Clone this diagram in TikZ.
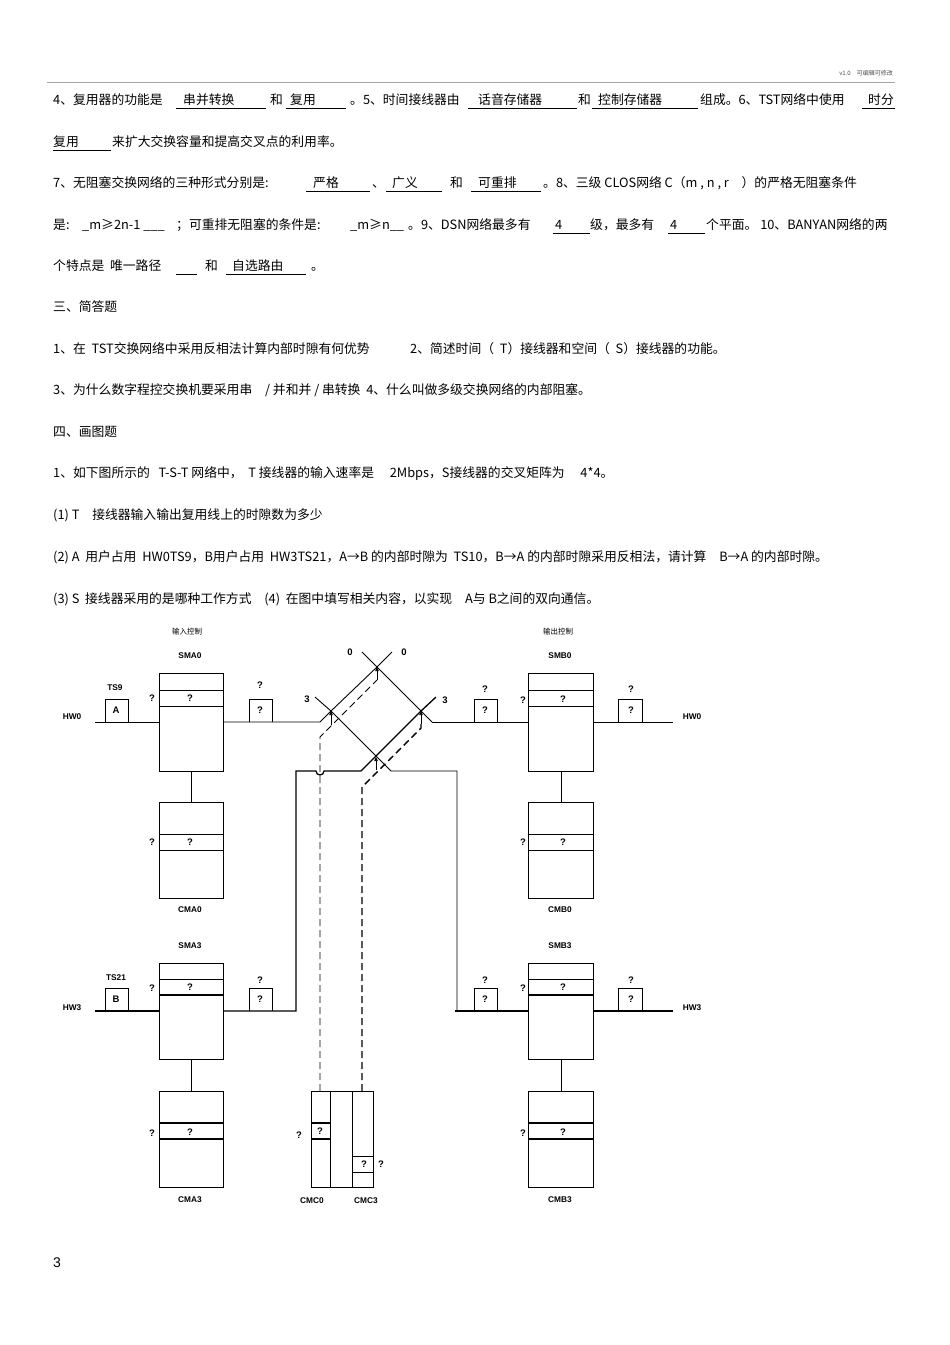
\documentclass[tikz,border=0pt]{standalone}
\usepackage{fontspec}
\setmainfont{Noto Sans CJK SC}
\setsansfont{Liberation Sans}
\usetikzlibrary{arrows.meta}
\newcommand{\TX}[4]{\node[txt] (#1) at (#2,#3) {#4};}
\newcommand{\UL}[3]{\draw[ul] (#1,#3+4) -- (#2,#3+4);}
\begin{document}
\begin{tikzpicture}[x=1pt,y=-1pt,
  txt/.style={anchor=base west,inner sep=0pt,font=\fontsize{12.8}{14}\selectfont},
  ul/.style={line width=0.6pt},
  lab/.style={inner sep=0pt,font=\sffamily\bfseries\fontsize{8.3}{9}\selectfont},
  q/.style={inner sep=0pt,font=\sffamily\bfseries\fontsize{9.5}{10}\selectfont},
  mem/.style={draw,line width=0.9pt},
  wire/.style={line width=0.9pt},
  tip/.style={-{Triangle[length=4pt,width=3.5pt]},line width=0.7pt}]
\useasboundingbox (0,0) rectangle (950,1345);
% header
\node[anchor=base east,inner sep=0pt,font=\fontsize{6}{7}\selectfont,text=black!70] (hdr) at (893,75) {v1.0\quad 可编辑可修改};
\draw[black!35,line width=0.5pt] (47,82) -- (895,82);
% line 1
\TX{a1}{53}{104}{4、复用器的功能是}
\TX{a2}{183}{104}{串并转换}\UL{176}{266}{104}
\TX{a3}{270}{104}{和}
\TX{a4}{290}{104}{复用}\UL{286}{346}{104}
\TX{a5}{350}{104}{。5、时间接线器由}
\TX{a6}{478}{104}{话音存储器}\UL{468}{577}{104}
\TX{a7}{578}{104}{和}
\TX{a8}{598}{104}{控制存储器}\UL{592}{698}{104}
\TX{a9}{700}{104}{组成。6、TST网络中使用}
\TX{a10}{868}{104}{时分}\UL{862}{895}{104}
% line 2
\TX{b1}{53}{146}{复用}\UL{53}{111}{146}
\TX{b2}{112}{146}{来扩大交换容量和提高交叉点的利用率。}
% line 3
\TX{c1}{53}{187}{7、无阻塞交换网络的三种形式分别是:}
\TX{c2}{313}{187}{严格}\UL{306}{370}{187}
\TX{c3}{372}{187}{、}
\TX{c4}{392}{187}{广义}\UL{386}{442}{187}
\TX{c5}{450}{187}{和}
\TX{c6}{478}{187}{可重排}\UL{471}{541}{187}
\TX{c7}{543}{187}{。8、三级\ CLOS网络\ C（m , n , r\quad ）的严格无阻塞条件}
% line 4
\TX{d1}{53}{229}{是:}
\TX{d2}{82}{229}{\_m≥2n-1\ \_\_\_}
\TX{d3}{176}{229}{；可重排无阻塞的条件是:}
\TX{d4}{350}{229}{\_m≥n\_\_}
\TX{d5}{408}{229}{。9、DSN网络最多有}
\TX{d6}{555}{229}{4}\UL{553}{590}{229}
\TX{d7}{590}{229}{级，最多有}
\TX{d8}{670}{229}{4}\UL{668}{705}{229}
\TX{d9}{706}{229}{个平面。 10、BANYAN网络的两}
% line 5
\TX{e1}{53}{270}{个特点是\ \ 唯一路径}\UL{176}{197}{270}
\TX{e2}{205}{270}{和}
\TX{e3}{232}{270}{自选路由}\UL{226}{306}{270}
\TX{e4}{311}{270}{。}
% rest
\TX{f1}{53}{311}{三、简答题}
\TX{g1}{53}{353}{1、在\ \ TST交换网络中采用反相法计算内部时隙有何优势}
\TX{g2}{410}{353}{2、简述时间（\ \ T）接线器和空间（\ \ S）接线器的功能。}
\TX{h1}{53}{394}{3、为什么数字程控交换机要采用串\quad / 并和并 / 串转换\ \ 4、什么叫做多级交换网络的内部阻塞。}
\TX{i1}{53}{436}{四、画图题}
\TX{j1}{53}{477}{1、如下图所示的\ \ \ T-S-T 网络中，\ \ T 接线器的输入速率是\quad\ 2Mbps，S接线器的交叉矩阵为\quad\ 4*4。}
\TX{k1}{53}{519}{(1) T\quad 接线器输入输出复用线上的时隙数为多少}
\TX{l1}{53}{561}{(2) A\ \ 用户占用\ \ HW0TS9，B用户占用\ \ HW3TS21，A→B 的内部时隙为\ \ TS10，B→A 的内部时隙采用反相法，请计算\quad B→A 的内部时隙。}
\TX{m1}{53}{603}{(3) S\ \ 接线器采用的是哪种工作方式\quad (4)\ \ 在图中填写相关内容，以实现\quad A与 B之间的双向通信。}
\node[anchor=base west,inner sep=0pt,font=\sffamily\fontsize{14}{16}\selectfont] (pg) at (53,1267) {3};
% ---------- diagram labels
\node[inner sep=0pt,font=\fontsize{7.5}{8}\selectfont] (inc) at (187,632) {输入控制};
\node[inner sep=0pt,font=\fontsize{7.5}{8}\selectfont] (outc) at (558,632) {输出控制};
% ===== SMA0 / CMA0
\draw[mem] (159,673) rectangle (223,771);
\draw[wire] (159,690)--(223,690) (159,706)--(223,706);
\node[lab] (lsma0) at (190,656) {SMA0};
\node[q] (qa0) at (190,698) {?}; \node[q] (qa0l) at (152,698) {?};
\draw[mem] (159,802) rectangle (223,898);
\draw[wire] (159,834)--(223,834) (159,850)--(223,850);
\node[q] (qc0) at (190,842) {?}; \node[q] (qc0l) at (152,842) {?};
\node[lab] (lcma0) at (190,910) {CMA0};
\draw[wire] (191,771)--(191,802);
\draw[wire] (95,722)--(159,722);
\draw[mem] (105,722)--(105,699)--(128,699)--(128,722);
\node[q] (nA) at (116,710) {A};
\node[lab] (ts9) at (115,688) {TS9};
\node[lab] (hw0l) at (72,717) {HW0};
\draw[mem] (249,722)--(249,699)--(272,699)--(272,722);
\node[q] (qb0) at (260,710) {?}; \node[q] (qb0t) at (260,685) {?};
% ===== SMA3 / CMA3
\draw[mem] (159,963) rectangle (223,1059);
\draw[wire] (159,979)--(223,979); \draw[line width=1.4pt] (159,995)--(223,995);
\node[lab] (lsma3) at (190,946) {SMA3};
\node[q] (qa3) at (190,987) {?}; \node[q] (qa3l) at (152,988) {?};
\draw[mem] (159,1091) rectangle (223,1187);
\draw[line width=1.4pt] (159,1123)--(223,1123) (159,1139)--(223,1139);
\node[q] (qc3) at (190,1132) {?}; \node[q] (qc3l) at (152,1133) {?};
\node[lab] (lcma3) at (190,1200) {CMA3};
\draw[wire] (191,1059)--(191,1091);
\draw[line width=1.3pt] (95,1011)--(159,1011);
\draw[mem] (105,1011)--(105,988)--(128,988)--(128,1011);
\node[q] (nB) at (116,999) {B};
\node[lab] (ts21) at (116,978) {TS21};
\node[lab] (hw3l) at (72,1008) {HW3};
\draw[mem] (249,1011)--(249,988)--(272,988)--(272,1011);
\node[q] (qb3) at (260,999) {?}; \node[q] (qb3t) at (260,980) {?};
% ===== SMB0 / CMB0
\draw[mem] (528,673) rectangle (593,771);
\draw[wire] (528,690)--(593,690) (528,706)--(593,706);
\node[lab] (lsmb0) at (560,656) {SMB0};
\node[q] (qd0) at (563,699) {?}; \node[q] (qd0l) at (523,700) {?};
\draw[mem] (528,802) rectangle (593,898);
\draw[wire] (528,834)--(593,834) (528,850)--(593,850);
\node[q] (qe0) at (563,842) {?}; \node[q] (qe0l) at (523,842) {?};
\node[lab] (lcmb0) at (560,910) {CMB0};
\draw[wire] (561,771)--(561,802);
\draw[wire] (432,722)--(528,722) (593,722)--(673,722);
\draw[mem] (474,722)--(474,699)--(497,699)--(497,722);
\node[q] (qf0) at (485,710) {?}; \node[q] (qf0t) at (485,689) {?};
\draw[mem] (618,722)--(618,699)--(642,699)--(642,722);
\node[q] (qg0) at (631,710) {?}; \node[q] (qg0t) at (631,689) {?};
\node[lab] (hw0r) at (692,717) {HW0};
% ===== SMB3 / CMB3
\draw[mem] (528,963) rectangle (593,1059);
\draw[wire] (528,979)--(593,979); \draw[line width=1.4pt] (528,995)--(593,995);
\node[lab] (lsmb3) at (560,946) {SMB3};
\node[q] (qd3) at (563,987) {?}; \node[q] (qd3l) at (523,988) {?};
\draw[mem] (528,1091) rectangle (593,1187);
\draw[line width=1.4pt] (528,1123)--(593,1123) (528,1139)--(593,1139);
\node[q] (qe3) at (563,1132) {?}; \node[q] (qe3l) at (523,1133) {?};
\node[lab] (lcmb3) at (560,1200) {CMB3};
\draw[wire] (561,1059)--(561,1091);
\draw[line width=1.3pt] (455,1011)--(528,1011) (593,1011)--(673,1011);
\draw[mem] (474,1011)--(474,988)--(497,988)--(497,1011);
\node[q] (qf3) at (485,999) {?}; \node[q] (qf3t) at (485,980) {?};
\draw[mem] (618,1011)--(618,988)--(642,988)--(642,1011);
\node[q] (qg3) at (631,999) {?}; \node[q] (qg3t) at (631,980) {?};
\node[lab] (hw3r) at (692,1008) {HW3};
% ===== S switch
\draw[wire] (223,722)--(320,722)--(331,711)--(377,667)--(392,652);
\draw[wire] (362,652)--(377,667)--(421,711)--(432,722);
\draw[wire] (315,697)--(331,711)--(376,756)--(391,771)--(457,771)--(457,1011);
\draw[line width=1.3pt] (223,1011)--(296,1011)--(296,771)--(316,771) arc(180:0:4)--(361,771)--(376,756)--(421,711)--(436,697);
\node[q] (s0l) at (350,652) {0}; \node[q] (s0r) at (404,652) {0};
\node[q] (s3l) at (307,699) {3}; \node[q] (s3r) at (445,700) {3};
\draw[tip] (331,725)--(331,711);
\draw[tip] (377,680)--(377,667);
\draw[tip] (421,724)--(421,711);
\draw[tip] (376,770)--(376,757);
% control dashed lines
\draw[dashed,line width=0.8pt,dash pattern=on 7pt off 4pt] (320,1091)--(320,737)--(377,680);
\draw[dashed,line width=1.4pt,dash pattern=on 7pt off 4pt] (362,1091)--(362,787)--(421,728)--(421,724);
% ===== CMC
\draw[mem] (311,1091) rectangle (373,1187);
\draw[wire] (330,1091)--(330,1187) (352,1091)--(352,1187);
\draw[line width=1.3pt] (311,1123)--(330,1123) (311,1139)--(330,1139);
\draw[wire] (352,1156)--(373,1156) (352,1172)--(373,1172);
\node[q] (cq0) at (320,1131) {?}; \node[q] (cq0l) at (299,1135) {?};
\node[q] (cq3) at (364,1164) {?}; \node[q] (cq3r) at (381,1164) {?};
\node[lab] (lcmc0) at (312,1201) {CMC0};
\node[lab] (lcmc3) at (366,1201) {CMC3};
\end{tikzpicture}
\end{document}
